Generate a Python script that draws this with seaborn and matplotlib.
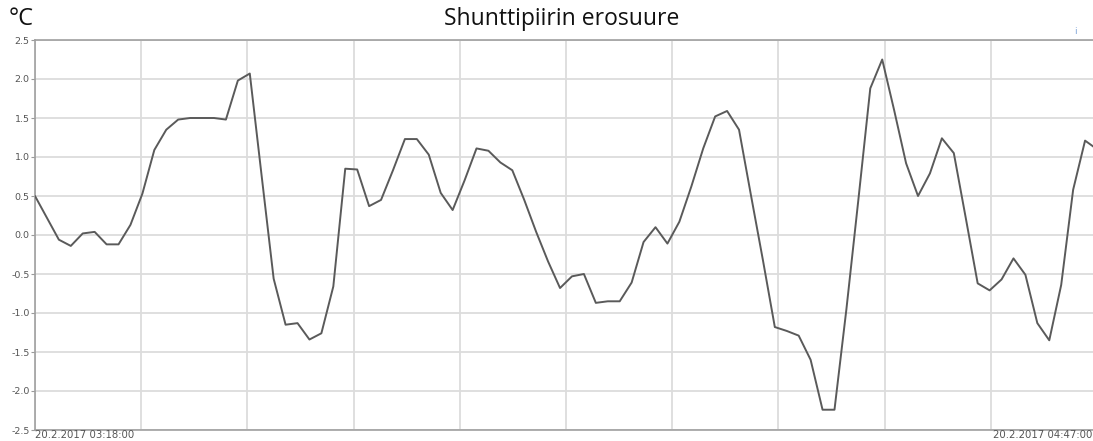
import numpy as np
import pandas as pd
import matplotlib
matplotlib.use("Agg")
import matplotlib.pyplot as plt
import seaborn as sns

# Minutes after 20.2.2017 03:18:00, one sample per minute
minutes = list(range(90))
erosuure = [
    0.50, 0.22, -0.06, -0.14, 0.02, 0.04, -0.12, -0.12, 0.13, 0.53,
    1.09, 1.35, 1.48, 1.50, 1.50, 1.50, 1.48, 1.98, 2.07, 0.75,
    -0.56, -1.15, -1.13, -1.34, -1.26, -0.66, 0.85, 0.84, 0.37, 0.45,
    0.83, 1.23, 1.23, 1.03, 0.54, 0.32, 0.70, 1.11, 1.08, 0.93,
    0.83, 0.45, 0.04, -0.34, -0.68, -0.53, -0.50, -0.87, -0.85, -0.85,
    -0.61, -0.09, 0.10, -0.11, 0.17, 0.62, 1.11, 1.52, 1.59, 1.35,
    0.51, -0.32, -1.18, -1.23, -1.29, -1.60, -2.24, -2.24, -0.95, 0.45,
    1.88, 2.25, 1.60, 0.92, 0.50, 0.79, 1.24, 1.05, 0.22, -0.62,
    -0.71, -0.57, -0.30, -0.51, -1.13, -1.35, -0.64, 0.58, 1.21, 1.10,
]
y_ticks = [2.5, 2.0, 1.5, 1.0, 0.5, 0.0, -0.5, -1.0, -1.5, -2.0, -2.5]
start_label = "20.2.2017 03:18:00"
end_label = "20.2.2017 04:47:00"
title = "Shunttipiirin erosuure"
unit = "°C"

df = pd.DataFrame({"min": minutes, "value": erosuure})

sns.set_theme(style="white")
plt.rcParams["font.family"] = ["DejaVu Sans"]

W, H = 1093, 441
fig = plt.figure(figsize=(W / 100, H / 100), dpi=100)
fig.patch.set_facecolor("white")

# plot area runs slightly past the right edge of the canvas
left_px, right_px, top_px, bottom_px = 35, 1097, 40, 430
ax = fig.add_axes([left_px / W, 1 - bottom_px / H,
                   (right_px - left_px) / W, (bottom_px - top_px) / H])

sns.lineplot(data=df, x="min", y="value", ax=ax, color="#5a5a5a",
             linewidth=1.4, zorder=3)

ax.set_xlim(0, 89)
ax.set_ylim(-2.5, 2.5)
ax.set_xticks(np.linspace(0, 89, 11))
ax.set_xticklabels([])
ax.set_yticks(y_ticks)
ax.set_yticklabels([f"{t:.1f}" for t in y_ticks])
ax.set_xlabel("")
ax.set_ylabel("")

ax.grid(True, color="#dcdcdc", linewidth=1.3, zorder=0)
ax.tick_params(axis="y", length=3, width=0.8, color="#9a9a9a", pad=1,
               labelsize=6.8, labelcolor="#555555", left=True)
ax.tick_params(axis="x", length=0)

for side in ("left", "bottom", "top"):
    ax.spines[side].set_color("#a0a0a0")
    ax.spines[side].set_linewidth(1.2)
ax.spines["right"].set_visible(False)

fig.text(562 / W, 1 - 19 / H, title, ha="center", va="center",
         fontsize=16.5, color="#111111", family=["Open Sans", "DejaVu Sans"])
fig.text(9 / W, 1 - 19 / H, unit, ha="left", va="center",
         fontsize=17, color="#111111", family=["Open Sans", "DejaVu Sans"])
fig.text(1075 / W, 1 - 31 / H, "i", ha="center", va="center",
         fontsize=6.5, color="#7fa4d8")

fig.text(left_px / W, 1 / H, start_label, ha="left", va="bottom",
         fontsize=7.3, color="#555555")
fig.text((W - 1) / W, 1 / H, end_label, ha="right", va="bottom",
         fontsize=7.3, color="#555555")

fig.savefig("out.png", dpi=100, facecolor="white")
